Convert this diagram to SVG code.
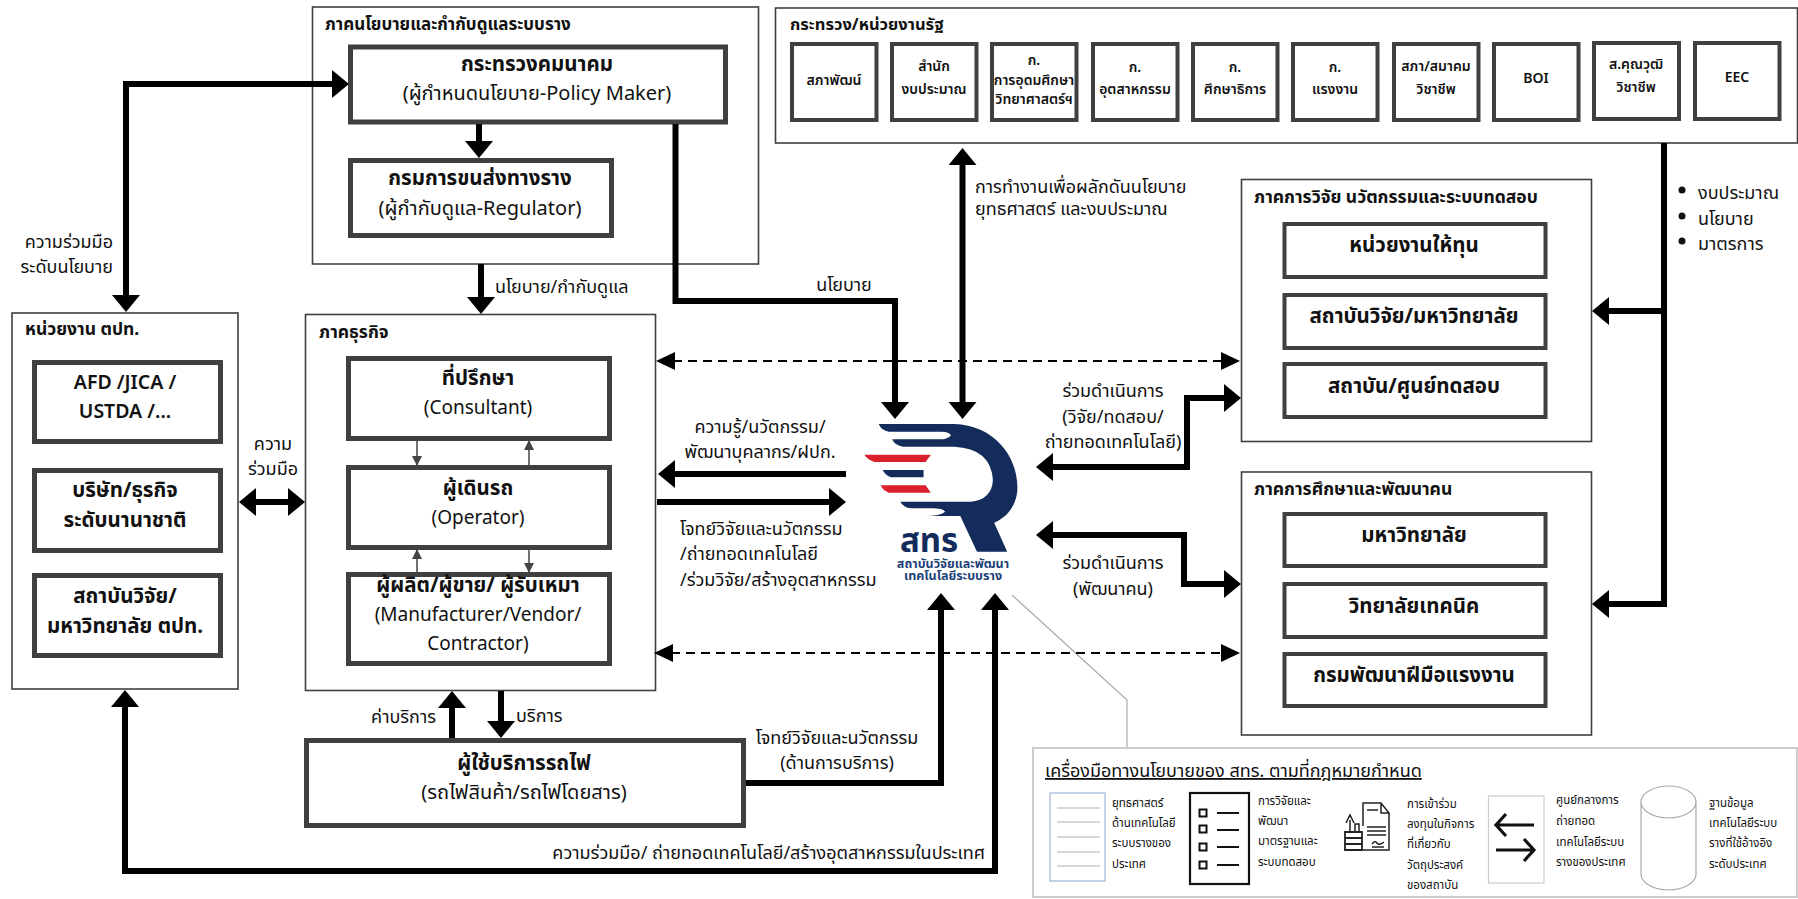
<svg xmlns="http://www.w3.org/2000/svg" width="1798" height="899" viewBox="0 0 1798 899">
<style>
text{font-family:"Noto Sans","Noto Sans Thai","Liberation Sans",sans-serif;fill:#111}
.o{fill:#fff;stroke:#404040;stroke-width:1.6}
.i{fill:#fff;stroke:#404040;stroke-width:5}
.s{fill:#fff;stroke:#404040;stroke-width:4}
.t{font-size:17.500px;font-weight:700}
.b{font-size:20.500px;font-weight:700;text-anchor:middle}
.n{font-size:20px;text-anchor:middle}
.e{font-size:19px;text-anchor:middle}
.l{font-size:18px}
.m{font-size:18px;text-anchor:middle}
.k{font-size:14px;font-weight:600;text-anchor:middle}
.p{font-size:11.500px}
.w{fill:none;stroke:#000;stroke-width:6}
.d{fill:none;stroke:#000;stroke-width:2;stroke-dasharray:9 6}
.g{fill:none;stroke:#444;stroke-width:1.5}
.u{stroke:#ccc;stroke-width:1.5;fill:none}
</style>
<defs>
<marker id="h" markerUnits="userSpaceOnUse" markerWidth="17" markerHeight="28" refX="7" refY="14" orient="auto-start-reverse"><path d="M0 0L17 14L0 28Z" fill="#000"/></marker>
<marker id="hd" markerUnits="userSpaceOnUse" markerWidth="19" markerHeight="18" refX="17" refY="9" orient="auto-start-reverse"><path d="M0 0L19 9L0 18Z" fill="#000"/></marker>
<marker id="hs" markerUnits="userSpaceOnUse" markerWidth="10" markerHeight="10" refX="9" refY="5" orient="auto-start-reverse"><path d="M0 0L10 5L0 10Z" fill="#444"/></marker>
</defs>
<rect width="1798" height="899" fill="#fff"/>

<g id="policy-sector">
<rect class="o" x="312.500" y="7" width="446" height="257"/>
<text class="t" x="325" y="30" style="font-size:17px">ภาคนโยบายและกำกับดูแลระบบราง</text>
<rect class="i" x="350.500" y="47" width="375" height="75"/>
<text class="b" x="537" y="71">กระทรวงคมนาคม</text>
<text class="n" x="537" y="100">(ผู้กำหนดนโยบาย-Policy Maker)</text>
<rect class="i" x="350.500" y="160.500" width="261" height="75"/>
<text class="b" x="480" y="185">กรมการขนส่งทางราง</text>
<text class="n" x="480" y="215">(ผู้กำกับดูแล-Regulator)</text>
</g>

<g id="government">
<rect class="o" x="775.500" y="8" width="1022" height="135"/>
<text class="t" x="790" y="30" style="font-size:16.500px">กระทรวง/หน่วยงานรัฐ</text>
<rect class="s" x="792" y="44" width="84.500" height="76"/><text class="k" x="834" y="85">สภาพัฒน์</text>
<rect class="s" x="892" y="44" width="84.500" height="76"/><text class="k" x="934" y="71">สำนัก</text><text class="k" x="934" y="94">งบประมาณ</text>
<rect class="s" x="992" y="44" width="84.500" height="76"/><text class="k" x="1034" y="65">ก.</text><text class="k" x="1034" y="85">การอุดมศึกษา</text><text class="k" x="1034" y="104">วิทยาศาสตร์ฯ</text>
<rect class="s" x="1093" y="44" width="84.500" height="76"/><text class="k" x="1135" y="72">ก.</text><text class="k" x="1135" y="94">อุตสาหกรรม</text>
<rect class="s" x="1193" y="44" width="84.500" height="76"/><text class="k" x="1235" y="72">ก.</text><text class="k" x="1235" y="94">ศึกษาธิการ</text>
<rect class="s" x="1293" y="44" width="84.500" height="76"/><text class="k" x="1335" y="72">ก.</text><text class="k" x="1335" y="94">แรงงาน</text>
<rect class="s" x="1394" y="44" width="84.500" height="76"/><text class="k" x="1436" y="71">สภา/สมาคม</text><text class="k" x="1436" y="94">วิชาชีพ</text>
<rect class="s" x="1494" y="44" width="84.500" height="76"/><text class="k" x="1536" y="83">BOI</text>
<rect class="s" x="1594" y="43" width="85" height="76"/><text class="k" x="1636" y="69">ส.คุณวุฒิ</text><text class="k" x="1636" y="92">วิชาชีพ</text>
<rect class="s" x="1695" y="43" width="84.500" height="76"/><text class="k" x="1737" y="82">EEC</text>
</g>

<g id="foreign-agencies">
<rect class="o" x="12" y="313" width="226" height="376"/>
<text class="t" x="25" y="335">หน่วยงาน ตปท.</text>
<rect class="i" x="34.500" y="362.500" width="186" height="79"/>
<text class="b" x="125" y="389" style="font-weight:600;font-size:19.500px">AFD /JICA /</text><text class="b" x="125" y="418" style="font-weight:600;font-size:19.500px">USTDA /...</text>
<rect class="i" x="34.500" y="470.500" width="186" height="80"/>
<text class="b" x="125" y="497">บริษัท/ธุรกิจ</text><text class="b" x="125" y="527">ระดับนานาชาติ</text>
<rect class="i" x="34.500" y="575.500" width="186" height="80"/>
<text class="b" x="125" y="603">สถาบันวิจัย/</text><text class="b" x="125" y="633">มหาวิทยาลัย ตปท.</text>
</g>

<g id="business">
<rect class="o" x="305.500" y="314.500" width="350" height="376"/>
<text class="t" x="319" y="338">ภาคธุรกิจ</text>
<rect class="i" x="348.500" y="358.500" width="261" height="80"/>
<text class="b" x="478" y="385">ที่ปรึกษา</text><text class="e" x="478" y="414">(Consultant)</text>
<rect class="i" x="348.500" y="467.500" width="261" height="80"/>
<text class="b" x="478" y="495">ผู้เดินรถ</text><text class="e" x="478" y="524">(Operator)</text>
<rect class="i" x="348.500" y="574.500" width="261" height="89"/>
<text class="b" x="478" y="592">ผู้ผลิต/ผู้ขาย/ ผู้รับเหมา</text><text class="e" x="478" y="621">(Manufacturer/Vendor/</text><text class="e" x="478" y="650">Contractor)</text>
</g>

<g id="rail-users">
<rect class="i" x="306.500" y="740.500" width="437" height="85"/>
<text class="b" x="524" y="770">ผู้ใช้บริการรถไฟ</text>
<text class="n" x="524" y="799">(รถไฟสินค้า/รถไฟโดยสาร)</text>
</g>

<g id="research-sector">
<rect class="o" x="1241.500" y="179.500" width="350" height="262"/>
<text class="t" x="1254" y="203">ภาคการวิจัย นวัตกรรมและระบบทดสอบ</text>
<rect class="s" x="1284.500" y="224" width="261" height="53"/><text class="b" x="1414" y="252">หน่วยงานให้ทุน</text>
<rect class="s" x="1284.500" y="295" width="261" height="53"/><text class="b" x="1414" y="323">สถาบันวิจัย/มหาวิทยาลัย</text>
<rect class="s" x="1284.500" y="364" width="261" height="53"/><text class="b" x="1414" y="393">สถาบัน/ศูนย์ทดสอบ</text>
</g>

<g id="education-sector">
<rect class="o" x="1241.500" y="472" width="350" height="263"/>
<text class="t" x="1254" y="495">ภาคการศึกษาและพัฒนาคน</text>
<rect class="s" x="1284.500" y="514" width="261" height="52"/><text class="b" x="1414" y="542">มหาวิทยาลัย</text>
<rect class="s" x="1284.500" y="584" width="261" height="53"/><text class="b" x="1414" y="613">วิทยาลัยเทคนิค</text>
<rect class="s" x="1284.500" y="654" width="261" height="52"/><text class="b" x="1414" y="682">กรมพัฒนาฝีมือแรงงาน</text>
</g>

<g id="connectors">
<path d="M1012 595L1127 700V747" fill="none" stroke="#aaa" stroke-width="1.2"/>
<path class="w" d="M339 84H126V302" marker-start="url(#h)" marker-end="url(#h)"/>
<path class="w" d="M479 124V148" marker-end="url(#h)"/>
<path class="w" d="M481 264V304" marker-end="url(#h)"/>
<path class="w" d="M675.500 124V301H895V409" marker-end="url(#h)"/>
<path class="w" d="M962.500 158V409" marker-start="url(#h)" marker-end="url(#h)"/>
<path class="w" d="M846 474H668" marker-end="url(#h)"/>
<path class="w" d="M657 502H836" marker-end="url(#h)"/>
<path class="w" d="M1046 467H1187V398H1231" marker-start="url(#h)" marker-end="url(#h)"/>
<path class="w" d="M1046 535H1184V584H1231" marker-start="url(#h)" marker-end="url(#h)"/>
<path class="w" d="M249 502H295" marker-start="url(#h)" marker-end="url(#h)"/>
<path class="w" d="M452 738V701" marker-end="url(#h)"/>
<path class="w" d="M501 691V728" marker-end="url(#h)"/>
<path class="w" d="M746 783H941V603" marker-end="url(#h)"/>
<path class="w" d="M125 700V871H995V603" marker-start="url(#h)" marker-end="url(#h)"/>
<path class="w" d="M1664 143V604H1602" marker-end="url(#h)"/>
<path class="w" d="M1664 311H1602" marker-end="url(#h)"/>
<path class="d" d="M658 361H1238" marker-start="url(#hd)" marker-end="url(#hd)"/>
<path class="d" d="M656 653H1238" marker-start="url(#hd)" marker-end="url(#hd)"/>
<path class="g" d="M417 441V465" marker-end="url(#hs)"/>
<path class="g" d="M529 465V441" marker-end="url(#hs)"/>
<path class="g" d="M417 572V550" marker-end="url(#hs)"/>
<path class="g" d="M529 550V572" marker-end="url(#hs)"/>
</g>

<g id="connector-labels">
<text class="l" x="113" y="248" text-anchor="end">ความร่วมมือ</text>
<text class="l" x="113" y="273" text-anchor="end">ระดับนโยบาย</text>
<text class="m" x="273" y="450">ความ</text><text class="m" x="273" y="475">ร่วมมือ</text>
<text class="l" x="495" y="293">นโยบาย/กำกับดูแล</text>
<text class="m" x="844" y="291">นโยบาย</text>
<text class="l" x="975" y="193">การทำงานเพื่อผลักดันนโยบาย</text>
<text class="l" x="975" y="215">ยุทธศาสตร์ และงบประมาณ</text>
<text class="m" x="760" y="433">ความรู้/นวัตกรรม/</text>
<text class="m" x="760" y="458">พัฒนาบุคลากร/ฝปก.</text>
<text class="l" x="680" y="535">โจทย์วิจัยและนวัตกรรม</text>
<text class="l" x="680" y="560">/ถ่ายทอดเทคโนโลยี</text>
<text class="l" x="680" y="586">/ร่วมวิจัย/สร้างอุตสาหกรรม</text>
<text class="m" x="1113" y="397">ร่วมดำเนินการ</text>
<text class="m" x="1113" y="423">(วิจัย/ทดสอบ/</text>
<text class="m" x="1113" y="448">ถ่ายทอดเทคโนโลยี)</text>
<text class="m" x="1113" y="569">ร่วมดำเนินการ</text>
<text class="m" x="1113" y="595">(พัฒนาคน)</text>
<text class="l" x="436" y="723" text-anchor="end">ค่าบริการ</text>
<text class="l" x="516" y="722">บริการ</text>
<text class="m" x="837" y="744">โจทย์วิจัยและนวัตกรรม</text>
<text class="m" x="837" y="769">(ด้านการบริการ)</text>
<text class="l" x="985" y="859" text-anchor="end">ความร่วมมือ/ ถ่ายทอดเทคโนโลยี/สร้างอุตสาหกรรมในประเทศ</text>
<circle cx="1682" cy="190" r="3.500" fill="#111"/><text class="l" x="1698" y="199">งบประมาณ</text>
<circle cx="1682" cy="216" r="3.500" fill="#111"/><text class="l" x="1698" y="225">นโยบาย</text>
<circle cx="1682" cy="241" r="3.500" fill="#111"/><text class="l" x="1698" y="250">มาตรการ</text>
</g>

<g id="logo">
<g transform="translate(640 380) scale(.408 .3333)">
<path fill="#132c5b" d="M585 132H770C865 135 925 225 925 322C925 372 903 410 868 428L900 515H826L785 408H700Q735 408 748 395Q740 385 720 385H665Q645 382 638 365H810Q862 360 865 300Q860 205 770 200H645Q625 198 618 178H745Q760 172 762 165Q755 155 740 155H610Q592 152 585 132Z"/>
<path fill="#d9202b" d="M550 224H713L700 246H575Q558 240 550 224ZM590 316H700L713 338H610Q595 332 590 316Z"/>
<path fill="#132c5b" d="M595 270H695V292H615Q600 285 595 270Z"/>
</g>
<text text-anchor="middle" style="font-weight:700;fill:#132c5b"><tspan x="929" y="552" style="font-size:33px">สทร</tspan><tspan x="953" y="568" style="font-size:12.500px;fill:#1d3f78">สถาบันวิจัยและพัฒนา</tspan><tspan x="953" y="580" style="font-size:12.500px;fill:#1d3f78">เทคโนโลยีระบบราง</tspan></text>
</g>

<g id="policy-tools">
<rect x="1033" y="748" width="764" height="149" fill="#fff" stroke="#ccc" stroke-width="2"/>
<text x="1045" y="777" text-decoration="underline" style="font-size:18px">เครื่องมือทางนโยบายของ สทร. ตามที่กฎหมายกำหนด</text>
<g id="tool-strategy">
<rect x="1050" y="793" width="55" height="88" fill="#fff" stroke="#9db4d8" stroke-width="1.200"/>
<path class="u" d="M1057 808H1100M1057 822H1100M1057 837H1100M1057 852H1100M1057 866H1100"/>
<text class="p" x="1112" y="807">ยุทธศาสตร์</text><text class="p" x="1112" y="827">ด้านเทคโนโลยี</text><text class="p" x="1112" y="847">ระบบรางของ</text><text class="p" x="1112" y="868">ประเทศ</text>
</g>
<g id="tool-research">
<rect x="1190" y="793" width="59" height="91" fill="#fff" stroke="#111" stroke-width="2.200"/>
<path d="M1199.500 809.500h7v7h-7zM1199.500 825.500h7v7h-7zM1199.500 843.500h7v7h-7zM1199.500 861.500h7v7h-7z" fill="none" stroke="#111" stroke-width="2"/>
<path d="M1217 813H1239M1217 830H1239M1217 847H1239M1217 865H1239" fill="none" stroke="#111" stroke-width="2"/>
<text class="p" x="1258" y="805">การวิจัยและ</text><text class="p" x="1258" y="825">พัฒนา</text><text class="p" x="1258" y="845">มาตรฐานและ</text><text class="p" x="1258" y="866">ระบบทดสอบ</text>
</g>
<g id="tool-invest">
<path d="M1363 826V803H1381L1389 813V850H1363M1381 803V813H1389M1367 810H1378M1367 827H1386M1367 831H1386M1367 835H1386M1372 844Q1375 840 1377 843T1384 842M1372 847H1384M1350 832V820M1346 823L1350 815L1354 823M1355 832V824H1359V832" fill="none" stroke="#222" stroke-width="1.500"/>
<path d="M1345 832H1362V838H1345ZM1345 838H1362V844H1345ZM1345 844H1362V850H1345Z" fill="none" stroke="#222" stroke-width="1.800"/>
<text class="p" x="1407" y="808">การเข้าร่วม</text><text class="p" x="1407" y="828">ลงทุนในกิจการ</text><text class="p" x="1407" y="848">ที่เกี่ยวกับ</text><text class="p" x="1407" y="869">วัตถุประสงค์</text><text class="p" x="1407" y="889">ของสถาบัน</text>
</g>
<g id="tool-transfer">
<rect x="1488.500" y="796" width="55.500" height="87" fill="#fff" stroke="#ccc" stroke-width="1.200"/>
<path d="M1534 825H1497M1506 814L1496 825L1506 836M1496 850H1533M1524 839L1534 850L1524 861" fill="none" stroke="#111" stroke-width="3.200"/>
<text class="p" x="1556" y="804">ศูนย์กลางการ</text><text class="p" x="1556" y="825">ถ่ายทอด</text><text class="p" x="1556" y="846">เทคโนโลยีระบบ</text><text class="p" x="1556" y="866">รางของประเทศ</text>
</g>
<g id="tool-database">
<path d="M1641 802A27.500 16 0 0 1 1696 802V874A27.500 16 0 0 1 1641 874ZM1641 802A27.500 16 0 0 0 1696 802" fill="#fff" stroke="#aaa" stroke-width="1.200"/>
<text class="p" x="1709" y="807">ฐานข้อมูล</text><text class="p" x="1709" y="827">เทคโนโลยีระบบ</text><text class="p" x="1709" y="847">รางที่ใช้อ้างอิง</text><text class="p" x="1709" y="868">ระดับประเทศ</text>
</g>
</g>
</svg>
